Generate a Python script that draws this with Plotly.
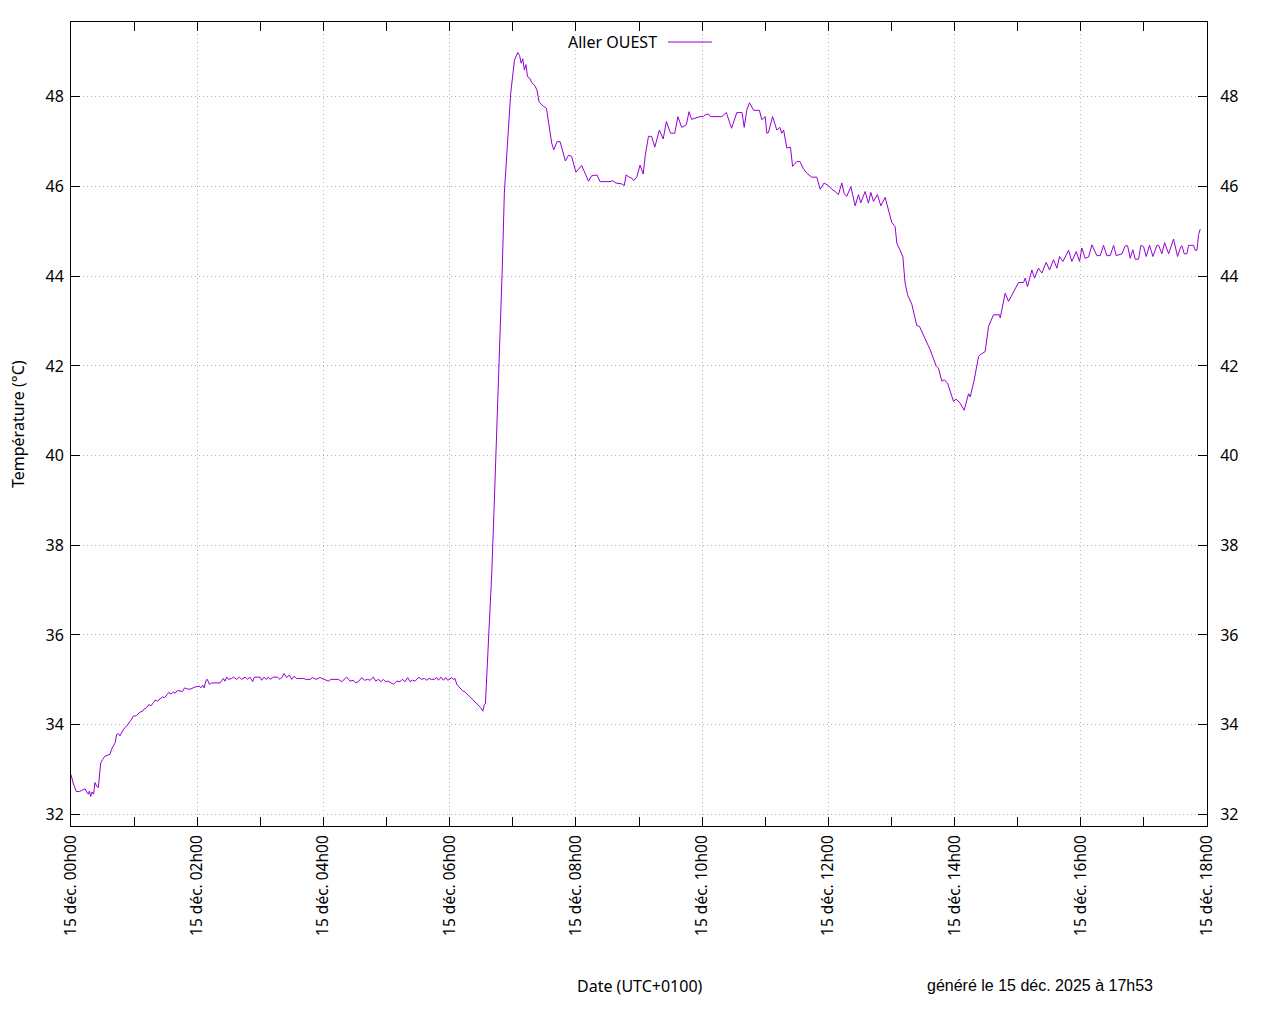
import pandas as pd
import plotly.graph_objects as go

# minutes since 15 dec. 2025 00h00 (UTC+0100) and temperature
minutes = [
    0, 2, 5, 8, 10, 12, 13.3, 15, 16.5, 17.5, 18.7, 20, 21.5, 22.8, 24.5, 26, 28.2, 30, 32.3, 35,
    37.1, 38.5, 40.2, 42, 43.4, 45, 46.5, 48.2, 50, 52.9, 55, 57, 59.3, 62, 65.6, 68, 70, 71.9, 74, 76,
    78.3, 80, 82, 84.6, 87, 89, 91, 93, 95, 97.3, 99, 101, 103.6, 106, 108, 110, 113.2, 118, 122, 123.3,
    125.2, 126.5, 128.4, 129.6, 131.5, 133.8, 141.7, 143.3, 144.8, 146.4, 148, 149.6, 152.8, 154.4, 157.5, 160, 162.3, 165.5, 167.7, 170.2,
    172.7, 174.3, 179.7, 181.3, 183.5, 185.4, 187.6, 189.2, 192.4, 196.2, 198.7, 201.3, 202.5, 205.1, 207.6, 209.8, 212.1, 214.6, 220.9, 223.5,
    227.3, 229.8, 233, 236.8, 240, 242.5, 244.7, 247.2, 254.2, 257.4, 262.1, 265.3, 268.4, 270.7, 273.2, 276.4, 278.9, 282.1, 284.3, 287.5,
    289.7, 292.2, 294.8, 297, 299.2, 301.7, 304.9, 306.5, 309.7, 312.8, 315, 317.6, 320.1, 322.3, 324.6, 327.1, 330.9, 332.8, 336, 338.2,
    340.4, 343, 345.5, 347.7, 349.3, 351.8, 354, 356.3, 358.2, 360.4, 362, 363.5, 365.1, 366.7, 369.9, 372.1, 374.6, 378, 381, 384,
    387, 389.5, 391.5, 393, 394, 397, 400, 402, 405, 407.5, 410, 412, 415, 418, 421.6, 424.8, 426.5, 428, 429.5, 431,
    432.5, 434, 436, 438, 441, 443, 445, 449, 452, 457, 459, 462, 465, 470, 473, 476, 480, 485.5, 492, 495,
    500, 503, 512.5, 515, 518, 523.6, 526, 527.7, 530, 533, 535, 538, 541, 544, 546, 549, 552, 555, 559.4, 563,
    566, 570, 574, 577, 580.6, 585, 587.6, 590, 598, 601, 603, 606, 608, 611, 618.7, 623, 628, 633, 638, 640,
    642.6, 645, 649, 654.5, 656.7, 660, 661.5, 663, 667, 671, 674, 675.7, 677.5, 680.5, 684, 686, 690, 693, 696, 699.5,
    704, 709, 712.2, 716, 720.1, 723.3, 726.5, 729.6, 732.8, 735, 737.5, 741.4, 745.5, 748.6, 750.9, 755, 758.1, 760.4, 762.9, 766.7,
    769.9, 774, 777.1, 780.3, 783.5, 785.1, 788, 790.8, 793, 795.3, 799.4, 801.6, 804.1, 806.7, 812.1, 816.8, 822.5, 824.7, 827.9, 830.1,
    833.3, 839, 841.5, 845.3, 849.1, 853.3, 854.9, 858.7, 862.8, 864.4, 869.1, 872.3, 877, 882.7, 883.4, 885.9, 888.1, 891.3, 896, 900.8,
    905.6, 907.2, 909.4, 913.5, 916, 919.8, 923, 927.1, 930.3, 934.1, 937.3, 939.8, 943, 948.4, 951.5, 955.7, 958.8, 961, 964.2, 967.4,
    970.6, 975.3, 978.5, 981.6, 984.8, 988, 991.2, 993.7, 999.1, 1002.3, 1004.5, 1007, 1009.5, 1011.8, 1014.9, 1017.2, 1019.7, 1022.2, 1025.4, 1028.6,
    1032.4, 1034, 1037.1, 1039.7, 1043.5, 1048.2, 1052, 1054.6, 1056.1, 1058.4, 1060.9, 1062.5, 1067.2, 1068.8, 1070.4, 1072, 1073.6,
]
temps = [
    32.89, 32.70, 32.51, 32.51, 32.53, 32.55, 32.57, 32.50, 32.45, 32.52, 32.40, 32.50, 32.45, 32.71, 32.62, 32.60, 33.14, 33.22, 33.30, 33.32,
    33.34, 33.45, 33.52, 33.60, 33.78, 33.80, 33.75, 33.82, 33.90, 33.97, 34.03, 34.10, 34.19, 34.20, 34.28, 34.30, 34.36, 34.38, 34.45, 34.42,
    34.49, 34.55, 34.52, 34.58, 34.62, 34.60, 34.65, 34.72, 34.68, 34.73, 34.70, 34.76, 34.75, 34.74, 34.82, 34.80, 34.79, 34.84, 34.86, 34.82,
    34.88, 34.82, 34.99, 35.01, 34.90, 34.93, 34.93, 34.99, 35.03, 34.97, 35.06, 35.01, 35.03, 35.06, 35.01, 35.06, 35.01, 35.06, 35.01, 35.06,
    34.96, 35.06, 35.06, 34.99, 35.06, 35.01, 35.06, 35.01, 35.06, 35.06, 35.01, 35.08, 35.14, 35.05, 35.11, 35.01, 35.08, 35.03, 35.03, 35.01,
    35.01, 35.05, 35.01, 35.05, 35.01, 34.99, 34.97, 35.01, 35.01, 34.96, 35.06, 34.97, 34.99, 34.93, 34.96, 35.05, 34.99, 35.01, 34.99, 35.06,
    34.97, 35.01, 34.96, 35.01, 34.96, 34.97, 34.93, 34.90, 34.97, 34.96, 35.01, 34.96, 35.05, 34.96, 34.99, 34.97, 35.06, 35.01, 35.03, 34.99,
    35.03, 35.01, 35.01, 35.05, 34.99, 35.06, 34.99, 35.05, 34.99, 35.03, 35.05, 35.01, 35.03, 34.90, 34.81, 34.76, 34.73, 34.65, 34.60, 34.52,
    34.45, 34.38, 34.30, 34.45, 34.47, 35.87, 37.37, 38.67, 40.67, 42.67, 44.17, 45.87, 47.07, 48.07, 48.82, 48.99, 48.92, 48.75, 48.85, 48.60,
    48.72, 48.45, 48.42, 48.32, 48.25, 48.15, 47.89, 47.79, 47.75, 46.97, 46.82, 47.00, 47.00, 46.57, 46.70, 46.67, 46.32, 46.47, 46.12, 46.24,
    46.26, 46.11, 46.11, 46.13, 46.08, 46.06, 46.02, 46.26, 46.22, 46.19, 46.13, 46.22, 46.48, 46.28, 46.70, 47.12, 47.12, 46.88, 47.26, 47.06,
    47.45, 47.19, 47.19, 47.56, 47.32, 47.38, 47.67, 47.50, 47.56, 47.56, 47.60, 47.62, 47.56, 47.56, 47.56, 47.65, 47.30, 47.65, 47.65, 47.32,
    47.72, 47.87, 47.70, 47.70, 47.49, 47.56, 47.19, 47.20, 47.56, 47.26, 47.32, 47.19, 47.26, 46.86, 46.88, 46.45, 46.56, 46.56, 46.41, 46.30,
    46.21, 46.21, 45.94, 46.08, 46.02, 45.94, 45.89, 45.82, 46.08, 45.85, 45.78, 46.00, 45.57, 45.82, 45.64, 45.89, 45.63, 45.87, 45.67, 45.82,
    45.57, 45.76, 45.48, 45.20, 45.11, 44.74, 44.59, 44.44, 43.85, 43.59, 43.37, 43.18, 42.90, 42.88, 42.58, 42.36, 42.00, 41.95, 41.66, 41.69,
    41.62, 41.21, 41.26, 41.17, 41.01, 41.38, 41.31, 41.69, 42.21, 42.25, 42.32, 42.88, 43.14, 43.14, 43.07, 43.36, 43.62, 43.44, 43.66, 43.86,
    43.86, 43.96, 43.77, 44.14, 43.96, 44.18, 44.07, 44.31, 44.14, 44.37, 44.18, 44.44, 44.33, 44.58, 44.33, 44.55, 44.33, 44.63, 44.40, 44.43,
    44.70, 44.46, 44.46, 44.69, 44.46, 44.46, 44.69, 44.46, 44.50, 44.68, 44.68, 44.40, 44.59, 44.38, 44.38, 44.69, 44.66, 44.44, 44.69, 44.44,
    44.69, 44.69, 44.50, 44.75, 44.50, 44.83, 44.44, 44.63, 44.68, 44.50, 44.50, 44.69, 44.69, 44.58, 44.58, 44.93, 45.05,
]

day = pd.Timestamp("2025-12-15 00:00")
times = day + pd.to_timedelta(minutes, unit="min")

tick_hours = [0, 2, 4, 6, 8, 10, 12, 14, 16, 18]
tick_vals = [day + pd.Timedelta(hours=h) for h in tick_hours]
tick_text = ["15 déc. %02dh00" % h for h in tick_hours]
y_ticks = [32, 34, 36, 38, 40, 42, 44, 46, 48]

purple = "#9400d3"
font = "Noto Sans"
y_range = [31.74, 49.67]

fig = go.Figure()
fig.add_trace(go.Scatter(x=times, y=temps, mode="lines", name="Aller OUEST",
                         line=dict(color=purple, width=1), showlegend=False))
# invisible copy so the right-hand axis gets drawn
fig.add_trace(go.Scatter(x=times, y=temps, mode="lines", yaxis="y2", opacity=0,
                         hoverinfo="skip", showlegend=False))

axis_common = dict(showline=True, linecolor="black", linewidth=1, ticks="inside",
                   tickcolor="black", zeroline=False)
grid = dict(showgrid=True, gridcolor="#b4b4b4", griddash="1px,3px", gridwidth=1)

fig.update_layout(
    width=1280, height=1024, autosize=False,
    # the page body adds 8px on the left/top, so the margins are shifted to keep the frame in place
    margin=dict(l=63, r=81, t=14, b=206),
    paper_bgcolor="white", plot_bgcolor="white",
    font=dict(family=font, size=16, color="black"),
    xaxis=dict(range=[day, day + pd.Timedelta(hours=18)], tickvals=tick_vals, ticktext=tick_text,
               tickangle=-90, ticklen=9, mirror="allticks", ticklabelstandoff=2,
               tickfont=dict(family=font, size=15.5, color="black"),
               minor=dict(dtick=3600000, ticks="inside", ticklen=4, tickcolor="black", showgrid=False),
               **grid, **axis_common),
    yaxis=dict(range=y_range, tickvals=y_ticks, ticklen=9, mirror=True, ticklabelstandoff=3,
               tickfont=dict(family=font, size=16, color="black"), **grid, **axis_common),
    yaxis2=dict(range=y_range, tickvals=y_ticks, ticklen=9, overlaying="y", side="right",
                showgrid=False, ticklabelstandoff=9,
                tickfont=dict(family=font, size=16, color="black"), **axis_common),
)

fig.add_annotation(text="Température (°C)", xref="paper", yref="paper", x=(18 - 71) / 1136, y=0.5,
                   textangle=-90, showarrow=False, xanchor="center", yanchor="middle",
                   font=dict(family=font, size=16))
fig.add_annotation(text="Date (UTC+0100)", xref="paper", yref="paper", x=(640 - 71) / 1136,
                   y=(826 - 986) / 804, showarrow=False, xanchor="center", yanchor="middle",
                   font=dict(family=font, size=16))
fig.add_annotation(text="généré le 15 déc. 2025 à 17h53", xref="paper", yref="paper",
                   x=(1040 - 71) / 1136, y=(826 - 985) / 804, showarrow=False,
                   xanchor="center", yanchor="middle", font=dict(family="Liberation Sans", size=16))

# key in gnuplot style: text first, then line sample
fig.add_annotation(text="Aller OUEST", xref="paper", yref="paper", x=(659 - 71) / 1136,
                   y=(826 - 42) / 804, showarrow=False, xanchor="right", yanchor="middle",
                   font=dict(family=font, size=16))
fig.add_shape(type="line", xref="paper", yref="paper", x0=(668 - 71) / 1136, x1=(712 - 71) / 1136,
              y0=(826 - 42) / 804, y1=(826 - 42) / 804, line=dict(color=purple, width=1))

fig.write_html("out.html")
